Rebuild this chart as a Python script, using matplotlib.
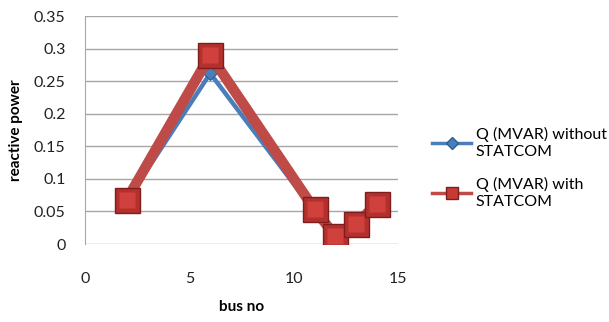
import matplotlib
matplotlib.use("Agg")
import matplotlib.pyplot as plt
from matplotlib.lines import Line2D

bus_no = [2, 6, 11, 12, 13, 14]
q_without = [0.066, 0.262, 0.050, 0.009, 0.028, 0.058]
q_with = [0.068, 0.290, 0.053, 0.012, 0.031, 0.062]

x_ticks = [0, 5, 10, 15]
y_ticks = [0, 0.05, 0.1, 0.15, 0.2, 0.25, 0.3, 0.35]
y_ticklabels = ["0", "0.05", "0.1", "0.15", "0.2", "0.25", "0.3", "0.35"]
series_labels = ["Q (MVAR) without\nSTATCOM", "Q (MVAR) with\nSTATCOM"]

plt.rcParams["font.family"] = ["Lato", "DejaVu Sans"]

fig = plt.figure(figsize=(6.09, 3.22), dpi=100)
ax = fig.add_axes([85 / 609, 1 - 244 / 322, (398 - 85) / 609, (244 - 16) / 322])

blue = "#4A7EBB"
red = "#BE4B48"

ax.plot(bus_no, q_without, color=blue, lw=3.2, marker="D", ms=7,
        mfc=blue, mec="#2C5D96", mew=0.8, zorder=3)
ax.plot(bus_no, q_with, color=red, lw=7.5, marker="s", ms=18,
        mfc="#B3302D", mec="#7E1E1C", mew=1.0, zorder=4)
# lighter face on the square markers for a bevelled look
ax.plot(bus_no, q_with, ls="none", marker="s", ms=12,
        mfc="#D0403C", mec="none", zorder=5)

ax.set_xlim(0, 15)
ax.set_ylim(0, 0.35)
ax.set_xticks(x_ticks)
ax.set_yticks(y_ticks)
ax.set_yticklabels(y_ticklabels)
ax.tick_params(axis="both", length=0, labelsize=11.5, colors="#222222")
ax.tick_params(axis="x", pad=20)
ax.tick_params(axis="y", pad=14)
ax.grid(axis="y", color="#A6A6A6", lw=1.0)
ax.set_axisbelow(True)
for side in ("top", "right", "bottom"):
    ax.spines[side].set_visible(False)
ax.spines["left"].set_color("#A6A6A6")

ax.set_xlabel("bus no", fontsize=11, fontweight="bold", labelpad=10)
ax.set_ylabel("reactive power", fontsize=11, fontweight="bold", labelpad=8)

handles = [
    Line2D([], [], color=blue, lw=2.5, marker="D", ms=6, mfc=blue, mec="#2C5D96"),
    Line2D([], [], color=red, lw=2.5, marker="s", ms=8, mfc="#C63A36", mec="#7E1E1C"),
]
leg = fig.legend(handles, series_labels, loc="center left",
                 bbox_to_anchor=(418 / 609, 1 - 168 / 322),
                 frameon=False, fontsize=11.5, handlelength=2.4,
                 handletextpad=0.3, labelspacing=1.1)
for t in leg.get_texts():
    t.set_linespacing(1.3)

fig.savefig("out.png", dpi=100)
